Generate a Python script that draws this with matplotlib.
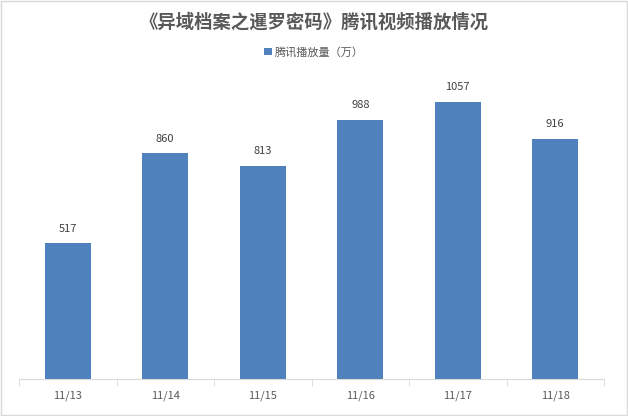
import matplotlib.pyplot as plt
from matplotlib.patches import Rectangle

plt.rcParams['font.family'] = ['Noto Sans CJK SC', 'DejaVu Sans']

# 数据
dates = ['11/13', '11/14', '11/15', '11/16', '11/17', '11/18']
plays = [517, 860, 813, 988, 1057, 916]

bar_color = '#4F81BD'
text_color = '#595959'

fig = plt.figure(figsize=(6.28, 4.16), dpi=100)
ax = fig.add_axes([19 / 628, 37 / 416, 585 / 628, 315 / 416])

x = range(len(dates))
bars = ax.bar(x, plays, width=0.47, color=bar_color, label='腾讯播放量（万）')

for xi, v in zip(x, plays):
    ax.text(xi, v + 35, str(v), ha='center', va='bottom', fontsize=8, color='#404040')

ax.set_xlim(-0.5, len(dates) - 0.5)
ax.set_ylim(0, 1200)
ax.set_yticks([])
ax.set_xticks(x)
ax.set_xticklabels(dates, fontsize=8, color=text_color)
# 分类之间的刻度线
ax.set_xticks([i - 0.5 for i in range(len(dates) + 1)], minor=True)
ax.tick_params(axis='x', which='major', length=0, pad=8)
ax.tick_params(axis='x', which='minor', length=5, color='#D9D9D9')

for s in ['top', 'right', 'left']:
    ax.spines[s].set_visible(False)
ax.spines['bottom'].set_color('#D9D9D9')

fig.text(0.5, 394 / 416, '《异域档案之暹罗密码》腾讯视频播放情况', ha='center', va='center',
         fontsize=13.2, fontweight='bold', color=text_color)

leg = fig.legend(loc='center', bbox_to_anchor=(0.5, 364 / 416), frameon=False,
                 fontsize=8, handlelength=0.7, handleheight=0.7, handletextpad=0.3)
for t in leg.get_texts():
    t.set_color(text_color)

# 外框
fig.patches.append(Rectangle((0.002, 0.002), 0.996, 0.996, transform=fig.transFigure,
                             fill=False, edgecolor='#D9D9D9', linewidth=1))

fig.savefig('out.png', dpi=100)
